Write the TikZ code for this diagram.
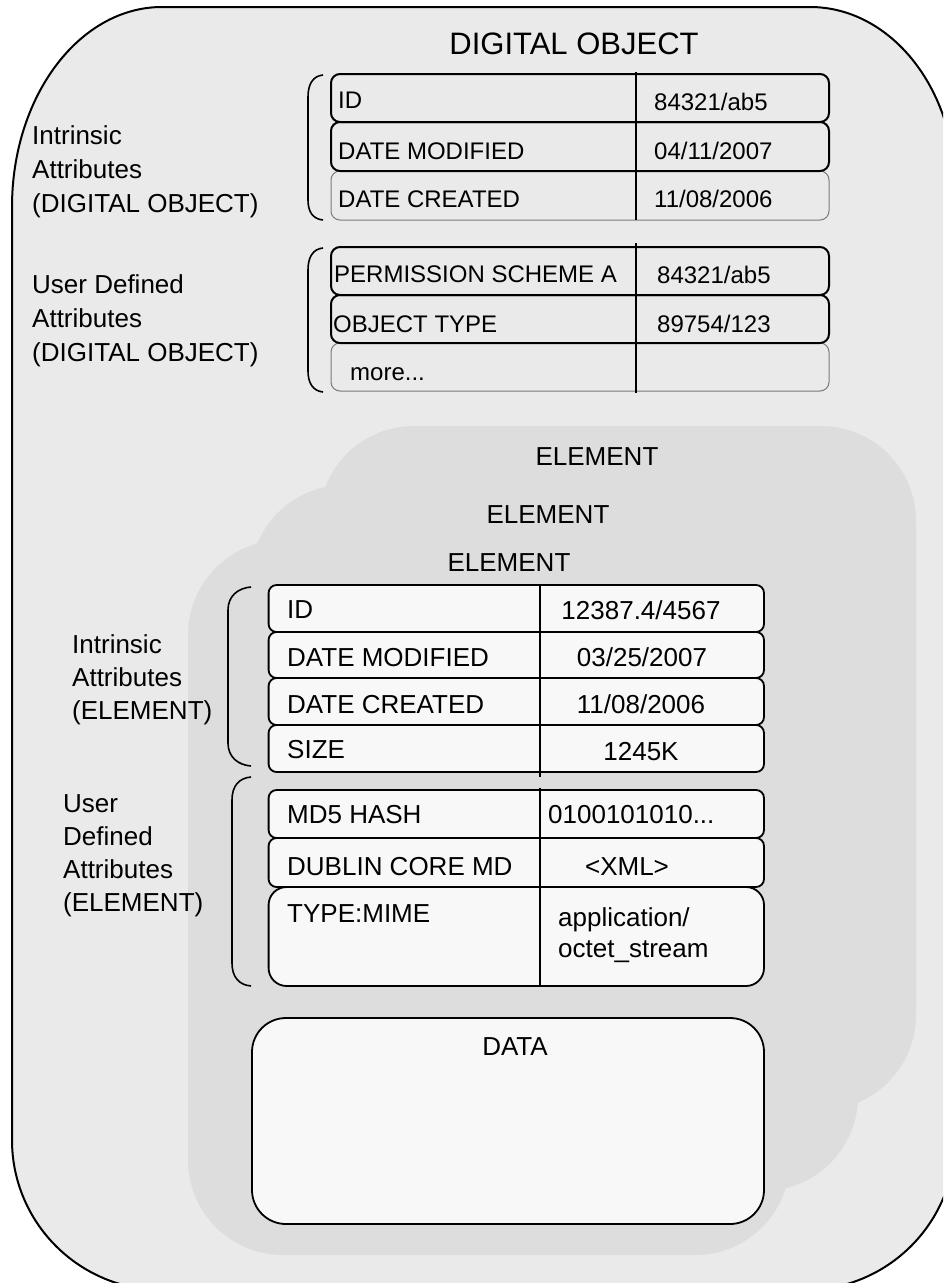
\documentclass[tikz,border=0pt]{standalone}
\usepackage{fontspec}
\setmainfont{Liberation Sans}
\definecolor{outerfill}{HTML}{EAEAEA}
\definecolor{elemfill}{HTML}{DDDDDD}
\definecolor{cellfill}{HTML}{F8F8F8}
\definecolor{softline}{HTML}{7A7A7A}
\tikzset{
  objshape/.style={fill=outerfill, draw=black, line width=2pt},
  elemshape/.style={fill=elemfill, rounded corners=95pt},
  topcell/.style={fill=outerfill, draw=black, line width=2pt, rounded corners=9pt},
  topcellsoft/.style={fill=outerfill, draw=softline, line width=1pt, rounded corners=9pt},
  elcell/.style={fill=cellfill, draw=black, line width=1.8pt, rounded corners=8pt},
  divider/.style={draw=black, line width=2pt},
  brace/.style={draw=black, line width=1.6pt},
  txt/.style={inner sep=0pt, anchor=base west},
  ctxt/.style={inner sep=0pt, anchor=base},
  fsmall/.style={font=\fontsize{24}{24}\selectfont},
  fmid/.style={font=\fontsize{26}{26}\selectfont},
  fbig/.style={font=\fontsize{31}{31}\selectfont},
}
\begin{document}
\begin{tikzpicture}[x=1pt, y=-1pt]
\useasboundingbox (0,0) rectangle (943,1283);
\fill[white] (0,0) rectangle (943,1283);

% outer digital object shape
\begin{scope}
\clip (0,0) rectangle (943,1283);
\draw[objshape] (162,7) -- (810,7)
  .. controls (890.1,7) and (955,87.6) .. (955,187)
  -- (955,1140)
  .. controls (955,1222.8) and (887.8,1290) .. (805,1290)
  -- (162,1290)
  .. controls (79.2,1290) and (12,1222.8) .. (12,1140)
  -- (12,207)
  .. controls (12,96.5) and (79.2,7) .. (162,7) -- cycle;
\end{scope}

\node[fbig, ctxt] (title) at (574,54) {DIGITAL OBJECT};

% intrinsic attributes of the digital object
\draw[topcellsoft] (331,171) rectangle (829,220);
\draw[topcell] (331,122) rectangle (829,171);
\draw[topcell] (331,74) rectangle (829,122);
\coordinate (d1a) at (636,72);
\coordinate (d1b) at (636,220);
\draw[divider] (d1a) -- (d1b);

\node[fsmall, txt] (o1k) at (338,108) {ID};
\node[fsmall, txt] (o1v) at (654,110) {84321/ab5};
\node[fsmall, txt] (o2k) at (338,159) {DATE MODIFIED};
\node[fsmall, txt] (o2v) at (654,159) {04/11/2007};
\node[fsmall, txt] (o3k) at (338,207) {DATE CREATED};
\node[fsmall, txt] (o3v) at (654,207) {11/08/2006};

% user defined attributes of the digital object
\draw[topcellsoft] (331,343) rectangle (829,391);
\draw[topcell] (331,295) rectangle (829,343);
\draw[topcell] (331,247) rectangle (829,295);
\coordinate (d2a) at (636,243);
\coordinate (d2b) at (636,393);
\draw[divider] (d2a) -- (d2b);

\node[fsmall, txt] (u1k) at (334,282) {PERMISSION SCHEME A};
\node[fsmall, txt] (u1v) at (657,283) {84321/ab5};
\node[fsmall, txt] (u2k) at (333,332) {OBJECT TYPE};
\node[fsmall, txt] (u2v) at (657,332) {89754/123};
\node[fsmall, txt] (u3k) at (350,380) {more...};

% braces of the upper group
\draw[brace] (323,75) .. controls (313,76) and (308,84) .. (308,97)
  -- (308,200) .. controls (308,212) and (313,219) .. (323,220);
\draw[brace] (323,248) .. controls (313,249) and (308,257) .. (308,270)
  -- (308,371) .. controls (308,383) and (313,391) .. (323,392);

% left labels of the upper group
\node[fmid, txt] (la1) at (32,144) {Intrinsic};
\node[fmid, txt] (la2) at (32,178) {Attributes};
\node[fmid, txt] (la3) at (32,212) {(DIGITAL OBJECT)};
\node[fmid, txt] (lb1) at (32,293) {User Defined};
\node[fmid, txt] (lb2) at (32,327) {Attributes};
\node[fmid, txt] (lb3) at (32,361) {(DIGITAL OBJECT)};

% stacked elements
\fill[elemshape] (319,426) rectangle (916,1110);
\fill[elemshape] (250,485) rectangle (858,1191);
\fill[elemshape] (188,540) rectangle (790,1255);
\node[fmid, ctxt] (el1) at (597,465) {ELEMENT};
\node[fmid, ctxt] (el2) at (548,523) {ELEMENT};
\node[fmid, ctxt] (el3) at (509,571) {ELEMENT};

% intrinsic attributes of the element
\draw[elcell] (268.6,585) rectangle (764,632);
\draw[elcell] (268.6,632) rectangle (764,678);
\draw[elcell] (268.6,678) rectangle (764,725);
\draw[elcell] (268.6,725) rectangle (764,772);
\coordinate (d3a) at (540,585);
\coordinate (d3b) at (540,777);
\draw[divider] (d3a) -- (d3b);

\node[fmid, txt] (e1k) at (287,618) {ID};
\node[fmid, ctxt] (e1v) at (641,619) {12387.4/4567};
\node[fmid, txt] (e2k) at (287,666) {DATE MODIFIED};
\node[fmid, ctxt] (e2v) at (642,666) {03/25/2007};
\node[fmid, txt] (e3k) at (287,713) {DATE CREATED};
\node[fmid, ctxt] (e3v) at (641,713) {11/08/2006};
\node[fmid, txt] (e4k) at (287,758) {SIZE};
\node[fmid, ctxt] (e4v) at (641,760) {1245K};

% user defined attributes of the element
\draw[elcell] (268.6,790) rectangle (764,838);
\draw[elcell] (268.6,838) rectangle (764,887);
\draw[elcell, rounded corners=18pt] (268.6,887) rectangle (764,986);
\coordinate (d4a) at (540,788);
\coordinate (d4b) at (540,986);
\draw[divider] (d4a) -- (d4b);

\node[fmid, txt] (f1k) at (287,823) {MD5 HASH};
\node[fmid, txt] (f1v) at (548,823) {0100101010...};
\node[fmid, txt] (f2k) at (287,875) {DUBLIN CORE MD};
\node[fmid, ctxt] (f2v) at (627,875) {<XML>};
\node[fmid, txt] (f3k) at (287,922) {TYPE:MIME};
\node[fmid, txt] (f3v) at (558,926) {application/};
\node[fmid, txt] (f3w) at (558,957) {octet\_stream};

% braces of the element group
\draw[brace] (251,587) .. controls (238,588) and (228,596) .. (228,610)
  -- (228,743) .. controls (228,757) and (238,765) .. (251,766);
\draw[brace] (251,777) .. controls (239,778) and (232,786) .. (232,800)
  -- (232,963) .. controls (232,977) and (239,985) .. (251,986);

% left labels of the element group
\node[fmid, txt] (lc1) at (72,653) {Intrinsic};
\node[fmid, txt] (lc2) at (72,686) {Attributes};
\node[fmid, txt] (lc3) at (72,719) {(ELEMENT)};
\node[fmid, txt] (ld1) at (63,812) {User};
\node[fmid, txt] (ld2) at (63,845) {Defined};
\node[fmid, txt] (ld3) at (63,878) {Attributes};
\node[fmid, txt] (ld4) at (63,911) {(ELEMENT)};

% payload
\draw[elcell, rounded corners=34pt] (252,1018) rectangle (764,1224);
\node[fmid, ctxt] (data) at (515,1055) {DATA};
\end{tikzpicture}
\end{document}
